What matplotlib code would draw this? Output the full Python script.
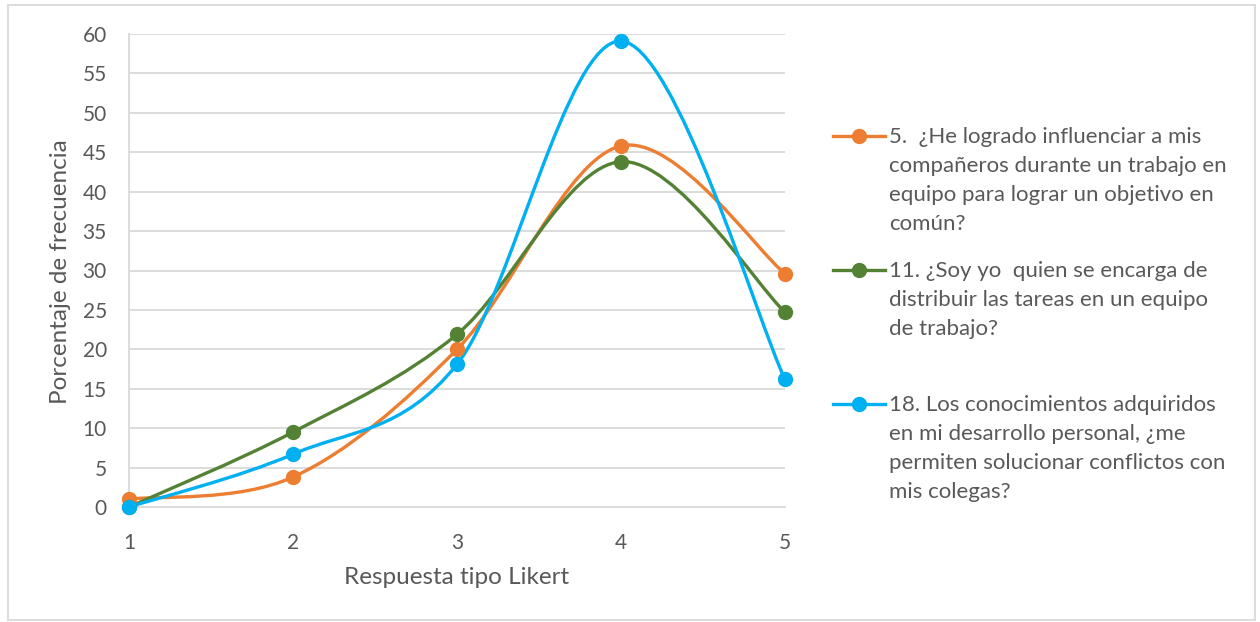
import matplotlib
matplotlib.use("Agg")
import matplotlib.pyplot as plt
import numpy as np
from matplotlib.path import Path
from matplotlib.patches import PathPatch, Rectangle
from matplotlib.lines import Line2D

plt.rcParams['font.family'] = ['Lato', 'DejaVu Sans']

# Likert answers and percentage of responses per item
likert = [1, 2, 3, 4, 5]
q5 = [1.0, 3.8, 20.0, 45.8, 29.6]
q11 = [0.0, 9.5, 21.9, 43.8, 24.7]
q18 = [0.0, 6.7, 18.1, 59.1, 16.2]

labels = [
    "5.  ¿He logrado influenciar a mis\ncompañeros durante un trabajo en\nequipo para lograr un objetivo en\ncomún?",
    "11. ¿Soy yo  quien se encarga de\ndistribuir las tareas en un equipo\nde trabajo?",
    "18. Los conocimientos adquiridos\nen mi desarrollo personal, ¿me\npermiten solucionar conflictos con\nmis colegas?",
]
colors = ['#ED7D31', '#548235', '#00B0F0']
text_color = '#595959'
grid_color = '#D9D9D9'

W, H = 1260, 622


def smooth_path(x, y):
    """Bezier path through the points, spreadsheet-style smoothing."""
    pts = np.column_stack([x, y]).astype(float)
    n = len(pts)
    verts = [pts[0]]
    codes = [Path.MOVETO]
    for i in range(n - 1):
        p0 = pts[max(i - 1, 0)]
        p1 = pts[i]
        p2 = pts[i + 1]
        p3 = pts[min(i + 2, n - 1)]
        c1 = p1 + (p2 - p0) / 6.0
        c2 = p2 - (p3 - p1) / 6.0
        verts += [c1, c2, p2]
        codes += [Path.CURVE4] * 3
    return Path(verts, codes)


fig = plt.figure(figsize=(W / 100, H / 100), dpi=100)
ax = fig.add_axes([129 / W, 1 - 507 / H, (785 - 129) / W, (507 - 34) / H])

for vals, c in zip([q5, q11, q18], colors):
    ax.add_patch(PathPatch(smooth_path(likert, vals), facecolor='none',
                           edgecolor=c, lw=2.4, zorder=3, clip_on=False,
                           capstyle='round'))
    ax.plot(likert, vals, linestyle='none', marker='o', ms=10, color=c,
            zorder=4, clip_on=False)

ax.set_xlim(1, 5)
ax.set_ylim(0, 60)
ax.set_xticks(likert)
ax.set_yticks(np.arange(0, 61, 5))
ax.yaxis.grid(True, color=grid_color, lw=1.3)
ax.set_axisbelow(True)
for side in ['top', 'right']:
    ax.spines[side].set_visible(False)
for side in ['left', 'bottom']:
    ax.spines[side].set_color(grid_color)
    ax.spines[side].set_linewidth(1.3)
ax.tick_params(length=0, labelsize=15, colors=text_color)
ax.tick_params(axis='x', pad=19)
ax.tick_params(axis='y', pad=16)

# axis titles placed in pixel positions of the chart frame
fig.text(457 / W, 1 - 578 / H, "Respuesta tipo Likert", fontsize=17.5,
         color=text_color, ha='center', va='center')
fig.text(61 / W, 1 - 272 / H, "Porcentaje de frecuencia", fontsize=17.5,
         color=text_color, ha='center', va='center', rotation=90)

# legend drawn by hand so every entry gets the same block height
for i, (lab, c) in enumerate(zip(labels, colors)):
    y = 1 - (136 + i * 134) / H
    fig.add_artist(Line2D([833 / W, 885 / W], [y, y], color=c, lw=2.4))
    fig.add_artist(Line2D([859 / W], [y], marker='o', ms=10, color=c))
    fig.text(889 / W, y + 9 / H, lab, fontsize=16, color=text_color,
             va='top', ha='left', linespacing=1.57)

# outer chart frame
fig.add_artist(Rectangle((8 / W, 2 / H), 1247 / W, 615 / H,
                         transform=fig.transFigure, fill=False,
                         edgecolor=grid_color, lw=1.3))

fig.savefig("out.png", dpi=100)
